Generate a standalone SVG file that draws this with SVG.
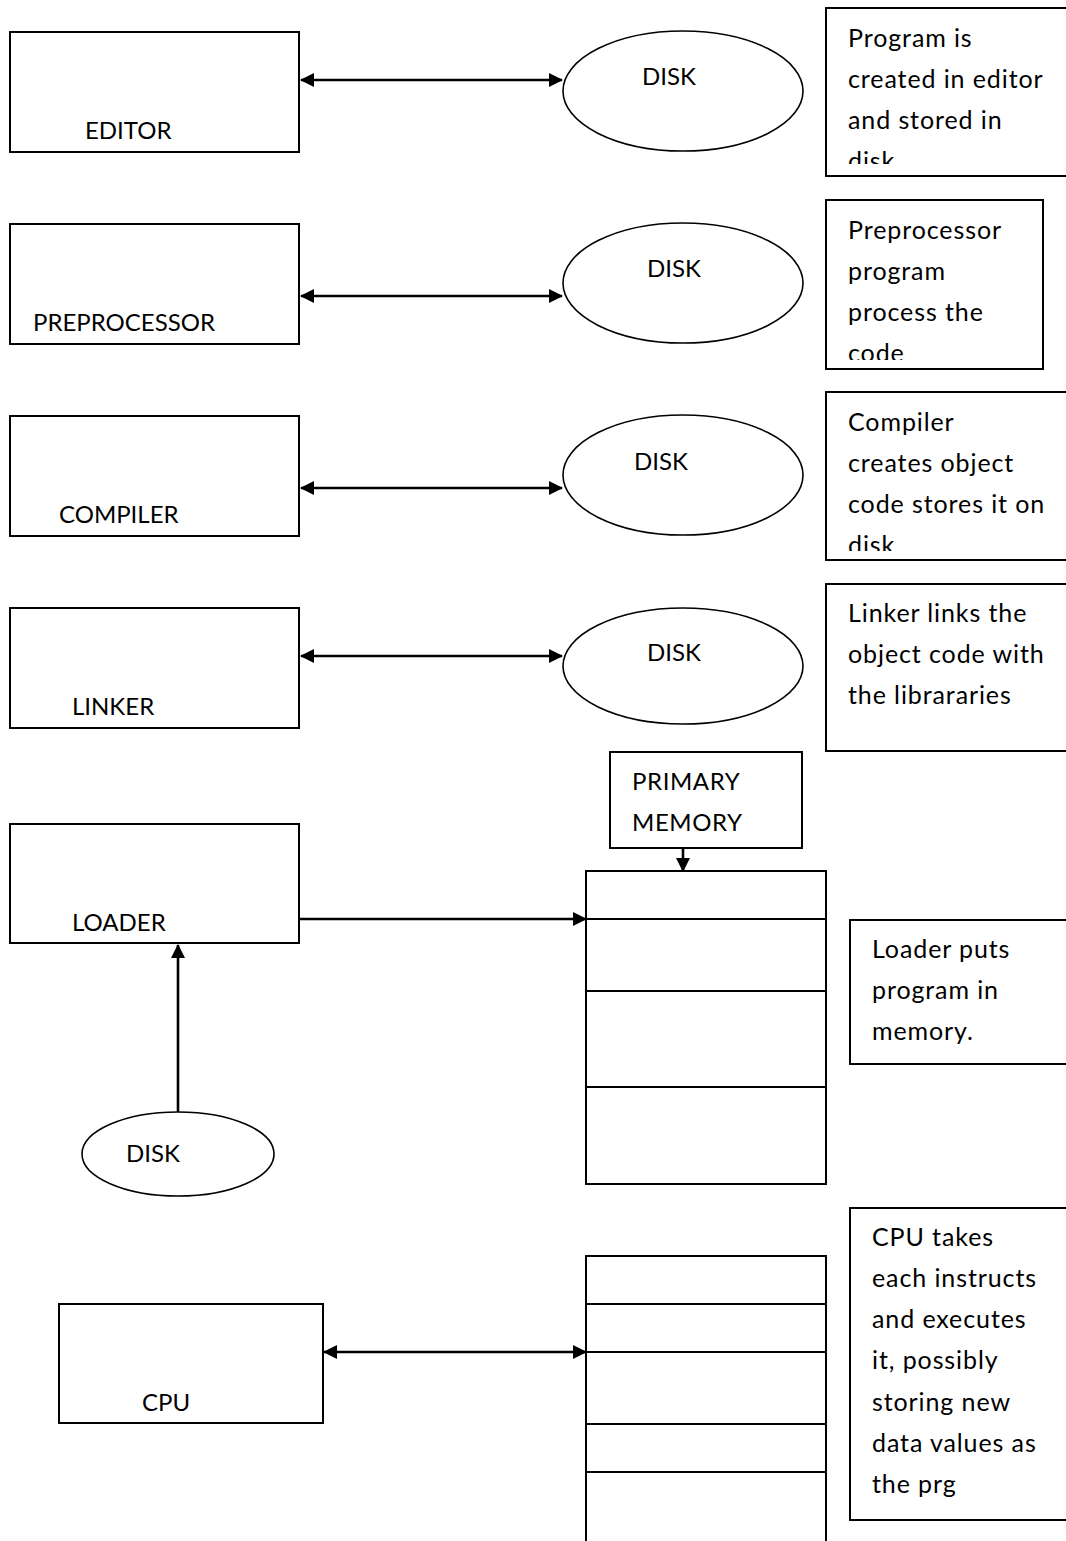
<svg xmlns="http://www.w3.org/2000/svg" width="1066" height="1541" viewBox="0 0 1066 1541">
<style>
  .box{fill:#fff;stroke:#000;stroke-width:2}
  .ell{fill:#fff;stroke:#000;stroke-width:1.6}
  .t{font-family:Lato,"Liberation Sans",sans-serif;font-size:24px;fill:#000}
  .n{font-family:Lato,"Liberation Sans",sans-serif;font-size:25px;letter-spacing:0.9px;fill:#000}
  .con{stroke:#000;stroke-width:2.6;fill:none}
  .sep{stroke:#000;stroke-width:2}
</style>
<defs>
  <marker id="ah" markerUnits="userSpaceOnUse" markerWidth="14" markerHeight="14" refX="13" refY="7" orient="auto-start-reverse" viewBox="0 0 14 14">
    <path d="M0,0 L14,7 L0,14 z" fill="#000"/>
  </marker>
  <clipPath id="c1"><rect x="826" y="8" width="240" height="156"/></clipPath>
  <clipPath id="c2"><rect x="826" y="200" width="217" height="160"/></clipPath>
  <clipPath id="c3"><rect x="826" y="392" width="240" height="159"/></clipPath>
</defs>
<rect width="1066" height="1541" fill="#fff"/>

<g id="connectors">
  <line class="con" x1="301" y1="80" x2="562" y2="80" marker-start="url(#ah)" marker-end="url(#ah)"/>
  <line class="con" x1="301" y1="296" x2="562" y2="296" marker-start="url(#ah)" marker-end="url(#ah)"/>
  <line class="con" x1="301" y1="488" x2="562" y2="488" marker-start="url(#ah)" marker-end="url(#ah)"/>
  <line class="con" x1="301" y1="656" x2="562" y2="656" marker-start="url(#ah)" marker-end="url(#ah)"/>
  <line class="con" x1="300" y1="919" x2="586" y2="919" marker-end="url(#ah)"/>
  <line class="con" x1="683" y1="848" x2="683" y2="871" marker-end="url(#ah)"/>
  <line class="con" x1="178" y1="1112" x2="178" y2="945" marker-end="url(#ah)"/>
  <line class="con" x1="324" y1="1352" x2="586" y2="1352" marker-start="url(#ah)" marker-end="url(#ah)"/>
</g>

<g id="editor">
  <rect class="box" x="10" y="32" width="289" height="120"/>
  <text class="t" x="85" y="139">EDITOR</text>
</g>
<g id="disk1">
  <ellipse class="ell" cx="683" cy="91" rx="120" ry="60"/>
  <text class="t" x="642" y="85">DISK</text>
</g>
<g id="note1">
  <path class="box" d="M1067,8 H826 V176 H1067"/>
  <g clip-path="url(#c1)">
    <text class="n" x="848" y="47">Program is</text>
    <text class="n" x="848" y="88">created in editor</text>
    <text class="n" x="848" y="129">and stored in</text>
    <text class="n" x="848" y="170">disk</text>
  </g>
</g>

<g id="preprocessor">
  <rect class="box" x="10" y="224" width="289" height="120"/>
  <text class="t" x="33" y="331">PREPROCESSOR</text>
</g>
<g id="disk2">
  <ellipse class="ell" cx="683" cy="283" rx="120" ry="60"/>
  <text class="t" x="647" y="277">DISK</text>
</g>
<g id="note2">
  <rect class="box" x="826" y="200" width="217" height="169"/>
  <g clip-path="url(#c2)">
    <text class="n" x="848" y="239">Preprocessor</text>
    <text class="n" x="848" y="280">program</text>
    <text class="n" x="848" y="321">process the</text>
    <text class="n" x="848" y="362">code</text>
  </g>
</g>

<g id="compiler">
  <rect class="box" x="10" y="416" width="289" height="120"/>
  <text class="t" x="59" y="523">COMPILER</text>
</g>
<g id="disk3">
  <ellipse class="ell" cx="683" cy="475" rx="120" ry="60"/>
  <text class="t" x="634" y="470">DISK</text>
</g>
<g id="note3">
  <path class="box" d="M1067,392 H826 V560 H1067"/>
  <g clip-path="url(#c3)">
    <text class="n" x="848" y="431">Compiler</text>
    <text class="n" x="848" y="472">creates object</text>
    <text class="n" x="848" y="513">code stores it on</text>
    <text class="n" x="848" y="554">disk</text>
  </g>
</g>

<g id="linker">
  <rect class="box" x="10" y="608" width="289" height="120"/>
  <text class="t" x="72" y="715">LINKER</text>
</g>
<g id="disk4">
  <ellipse class="ell" cx="683" cy="666" rx="120" ry="58"/>
  <text class="t" x="647" y="661">DISK</text>
</g>
<g id="note4">
  <path class="box" d="M1067,584 H826 V751 H1067"/>
  <text class="n" x="848" y="622">Linker links the</text>
  <text class="n" x="848" y="663">object code with</text>
  <text class="n" x="848" y="704">the librararies</text>
</g>

<g id="primary-memory">
  <rect class="box" x="610" y="752" width="192" height="96"/>
  <text class="t" x="632" y="790" letter-spacing="0.6">PRIMARY</text>
  <text class="t" x="632" y="831" letter-spacing="0.6">MEMORY</text>
</g>
<g id="memory1">
  <rect class="box" x="586" y="871" width="240" height="313"/>
  <line class="sep" x1="586" y1="919" x2="826" y2="919"/>
  <line class="sep" x1="586" y1="991" x2="826" y2="991"/>
  <line class="sep" x1="586" y1="1087" x2="826" y2="1087"/>
</g>
<g id="loader">
  <rect class="box" x="10" y="824" width="289" height="119"/>
  <text class="t" x="72" y="931">LOADER</text>
</g>
<g id="disk5">
  <ellipse class="ell" cx="178" cy="1154" rx="96" ry="42"/>
  <text class="t" x="126" y="1162">DISK</text>
</g>
<g id="note5">
  <path class="box" d="M1067,920 H850 V1064 H1067"/>
  <text class="n" x="872" y="958">Loader puts</text>
  <text class="n" x="872" y="999">program in</text>
  <text class="n" x="872" y="1040">memory.</text>
</g>

<g id="cpu">
  <rect class="box" x="59" y="1304" width="264" height="119"/>
  <text class="t" x="142" y="1411">CPU</text>
</g>
<g id="memory2">
  <path class="box" d="M586,1545 V1256 H826 V1545"/>
  <line class="sep" x1="586" y1="1304" x2="826" y2="1304"/>
  <line class="sep" x1="586" y1="1352" x2="826" y2="1352"/>
  <line class="sep" x1="586" y1="1424" x2="826" y2="1424"/>
  <line class="sep" x1="586" y1="1472" x2="826" y2="1472"/>
</g>
<g id="note6">
  <path class="box" d="M1067,1208 H850 V1520 H1067"/>
  <text class="n" x="872" y="1246">CPU takes</text>
  <text class="n" x="872" y="1287">each instructs</text>
  <text class="n" x="872" y="1328">and executes</text>
  <text class="n" x="872" y="1369">it, possibly</text>
  <text class="n" x="872" y="1411">storing new</text>
  <text class="n" x="872" y="1452">data values as</text>
  <text class="n" x="872" y="1493">the prg</text>
</g>
</svg>
